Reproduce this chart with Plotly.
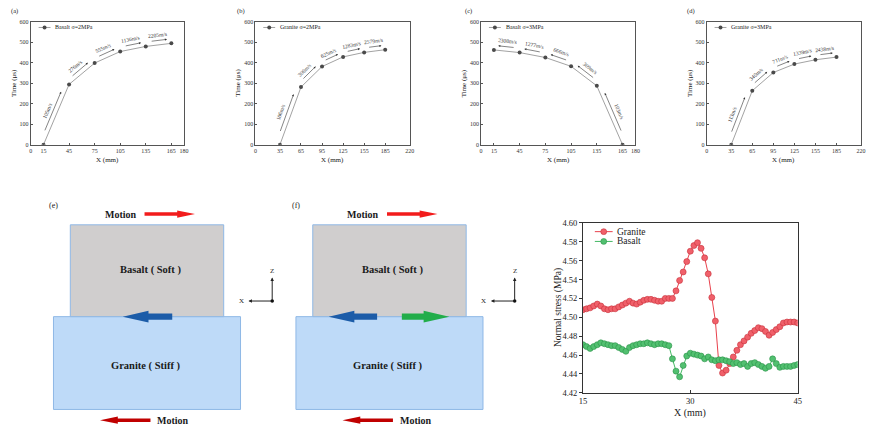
import math
import plotly.graph_objects as go

W, H = 871, 434
FONT = "Liberation Serif"

# ---------------- data ----------------
a_x = [15, 45, 75, 105, 135, 165]
a_t = [0, 294, 398, 454, 479, 494]
a_v = ["105m/s", "276m/s", "555m/s", "1136m/s", "2205m/s"]

b_x = [35, 65, 95, 125, 155, 185]
b_t = [0, 281, 381, 428, 450, 463]
b_v = ["106m/s", "306m/s", "625m/s", "1283m/s", "2579m/s"]

c_x = [15, 45, 75, 105, 135, 165]
c_t = [462, 449, 425, 382, 287, 0]
c_v = ["2308m/s", "1277m/s", "666m/s", "309m/s", "103m/s"]

d_x = [35, 65, 95, 125, 155, 185]
d_t = [0, 263, 352, 393, 414, 427]
d_v = ["113m/s", "340m/s", "711m/s", "1339m/s", "2438m/s"]

ticks_ac = [0, 15, 45, 75, 105, 135, 165, 180]
ticks_bd = [0, 35, 65, 95, 125, 155, 185, 220]

stress_x = [15.0, 15.5, 16.0, 16.5, 17.0, 17.5, 18.0, 18.5, 19.0, 19.5,
            20.0, 20.5, 21.0, 21.5, 22.0, 22.5, 23.0, 23.5, 24.0, 24.5,
            25.0, 25.5, 26.0, 26.5, 27.0, 27.5, 28.0, 28.5, 29.0, 29.5,
            30.0, 30.5, 31.0, 31.5, 32.0, 32.5, 33.0, 33.5, 34.0, 34.5,
            35.0, 35.5, 36.0, 36.5, 37.0, 37.5, 38.0, 38.5, 39.0, 39.5,
            40.0, 40.5, 41.0, 41.5, 42.0, 42.5, 43.0, 43.5, 44.0, 44.5,
            45.0]
granite = [4.508, 4.509, 4.510, 4.512, 4.514, 4.512, 4.509, 4.508, 4.509, 4.509,
           4.511, 4.513, 4.515, 4.517, 4.515, 4.514, 4.516, 4.518, 4.519, 4.519,
           4.518, 4.517, 4.517, 4.520, 4.520, 4.520, 4.528, 4.539, 4.548, 4.559,
           4.570, 4.576, 4.579, 4.573, 4.563, 4.546, 4.521, 4.496, 4.449, 4.441,
           4.444, 4.451, 4.458, 4.465, 4.471, 4.475, 4.479, 4.483, 4.486, 4.489,
           4.488, 4.485, 4.481, 4.484, 4.487, 4.490, 4.494, 4.495, 4.495, 4.495,
           4.494]
basalt = [4.471, 4.469, 4.467, 4.469, 4.471, 4.473, 4.472, 4.471, 4.470, 4.470,
          4.468, 4.466, 4.464, 4.468, 4.470, 4.471, 4.472, 4.472, 4.473, 4.472,
          4.471, 4.472, 4.472, 4.471, 4.470, 4.456, 4.443, 4.437, 4.449, 4.459,
          4.462, 4.461, 4.460, 4.459, 4.456, 4.458, 4.455, 4.454, 4.455, 4.455,
          4.454, 4.453, 4.451, 4.452, 4.450, 4.451, 4.448, 4.451, 4.452, 4.450,
          4.448, 4.446, 4.448, 4.456, 4.451, 4.447, 4.448, 4.448, 4.448, 4.449,
          4.450]


def px(x):
    return x / W


def py(y):
    return 1 - y / H


fig = go.Figure()


def text(x, y, s, size, bold=False, anchor="center", color="#1a1a1a", angle=0):
    fig.add_annotation(x=px(x), y=py(y), xref="paper", yref="paper",
                       xanchor=anchor, yanchor="middle", textangle=angle,
                       text=f"<b>{s}</b>" if bold else s, showarrow=False,
                       font=dict(family=FONT, size=size, color=color))


# ---------------- top panels ----------------
TOP_Y0, TOP_Y1 = 17, 143  # pixel top / bottom of plot areas
panels = [
    dict(lab="(a)", name="Basalt σ=2MPa", x=a_x, t=a_t, v=a_v, xmax=180, ticks=ticks_ac,
         dom=(27, 182), labx=11, dirn=1),
    dict(lab="(b)", name="Granite σ=2MPa", x=b_x, t=b_t, v=b_v, xmax=220, ticks=ticks_bd,
         dom=(254, 410), labx=239, dirn=1),
    dict(lab="(c)", name="Basalt σ=3MPa", x=c_x, t=c_t, v=c_v, xmax=180, ticks=ticks_ac,
         dom=(482, 638), labx=469, dirn=-1),
    dict(lab="(d)", name="Granite σ=3MPa", x=d_x, t=d_t, v=d_v, xmax=220, ticks=ticks_bd,
         dom=(710, 866), labx=694, dirn=1),
]

layout_axes = {}
for i, p in enumerate(panels):
    n = i + 1
    xa = "x" if n == 1 else f"x{n}"
    ya = "y" if n == 1 else f"y{n}"
    fig.add_trace(go.Scatter(
        x=p["x"], y=p["t"], xaxis=xa, yaxis=ya, mode="lines+markers",
        line=dict(color="#8a8a8a", width=0.8),
        marker=dict(symbol="circle", size=4, color="#4a4a4a"),
        showlegend=False, hoverinfo="skip"))
    axstyle = dict(showline=True, linecolor="#555", linewidth=0.8, mirror=True,
                   ticks="inside", ticklen=2, tickwidth=0.6, tickcolor="#555",
                   showgrid=False, zeroline=False,
                   tickfont=dict(family=FONT, size=6, color="#333"))
    layout_axes["xaxis" if n == 1 else f"xaxis{n}"] = dict(
        domain=[px(p["dom"][0]), px(p["dom"][1])], range=[0, p["xmax"]],
        tickvals=p["ticks"], anchor=ya, **axstyle)
    layout_axes["yaxis" if n == 1 else f"yaxis{n}"] = dict(
        domain=[py(TOP_Y1), py(TOP_Y0)], range=[0, 600], dtick=100, anchor=xa, **axstyle)

    # axis titles / panel label
    text((p["dom"][0] + p["dom"][1]) / 2, 159, "X (mm)", 7, color="#222")
    text(p["dom"][0] - 17, 80, "Time (μs)", 7, color="#222", angle=-90)
    text(p["labx"], 6, p["lab"], 6.5, color="#222")

    # legend (manual)
    lx0 = p["dom"][0] + 8
    fig.add_shape(type="line", xref="paper", yref="paper", x0=px(lx0), x1=px(lx0 + 12),
                  y0=py(23), y1=py(23), line=dict(color="#8a8a8a", width=0.8))
    fig.add_shape(type="circle", xref="paper", yref="paper", x0=px(lx0 + 4), x1=px(lx0 + 8),
                  y0=py(25), y1=py(21), fillcolor="#4a4a4a", line=dict(width=0))
    text(lx0 + 15, 23, p["name"], 6, anchor="left", color="#222")

    # velocity annotations along segments
    wpx = p["dom"][1] - p["dom"][0]
    sx = wpx / p["xmax"]
    sy = (TOP_Y1 - TOP_Y0) / 600
    for k in range(len(p["x"]) - 1):
        x1, x2 = p["x"][k], p["x"][k + 1]
        t1, t2 = p["t"][k], p["t"][k + 1]
        dxp = (x2 - x1) * sx
        dyp = (t2 - t1) * sy
        L = math.hypot(dxp, dyp)
        ux, uy = dxp / L, dyp / L
        nx, ny = -uy, ux
        ang = math.degrees(math.atan2(dyp, dxp))
        fig.add_annotation(x=(x1 + x2) / 2, y=(t1 + t2) / 2, xref=xa, yref=ya,
                           xanchor="center", yanchor="middle",
                           text=p["v"][k], textangle=-ang, showarrow=False,
                           xshift=nx * 10, yshift=ny * 10,
                           font=dict(family=FONT, size=5.5, color="#333"))
        if p["dirn"] > 0:
            h, tl = 0.85, 0.2
        else:
            h, tl = 0.15, 0.8
        hx, hy = x1 + h * (x2 - x1), t1 + h * (t2 - t1)
        fig.add_annotation(x=hx, y=hy, xref=xa, yref=ya, text="", showarrow=True,
                           ax=(tl - h) * dxp, ay=-(tl - h) * dyp,
                           xshift=nx * 4.5, yshift=ny * 4.5,
                           arrowhead=2, arrowsize=0.7, arrowwidth=0.6, arrowcolor="#333", standoff=0)

# ---------------- normal stress chart ----------------
fig.add_trace(go.Scatter(
    x=stress_x, y=granite, xaxis="x5", yaxis="y5", mode="lines+markers", name="Granite",
    line=dict(color="#e8414c", width=1),
    marker=dict(symbol="circle", size=6, color="#f0606a", line=dict(color="#c8303a", width=0.6)),
    showlegend=False, hoverinfo="skip"))
fig.add_trace(go.Scatter(
    x=stress_x, y=basalt, xaxis="x5", yaxis="y5", mode="lines+markers", name="Basalt",
    line=dict(color="#45b864", width=1),
    marker=dict(symbol="circle", size=6, color="#52c070", line=dict(color="#2a9248", width=0.6)),
    showlegend=False, hoverinfo="skip"))

ax5 = dict(showline=True, linecolor="#333", linewidth=1, mirror=True,
           ticklen=3, tickwidth=0.8, tickcolor="#333", showgrid=False, zeroline=False,
           tickfont=dict(family=FONT, size=8.5, color="#222"))
layout_axes["xaxis5"] = dict(domain=[px(585), px(802)], range=[15, 45], tickvals=[15, 30, 45],
                             ticks="inside", anchor="y5", **ax5)
layout_axes["yaxis5"] = dict(domain=[py(397), py(223)], range=[4.42, 4.60], dtick=0.02,
                             tickformat=".2f", ticks="outside", anchor="x5", **ax5)
text(693, 418, "X (mm)", 10, color="#222")
text(561, 310, "Normal stress (MPa)", 9.5, color="#222", angle=-90)
for name, yy, lc, mc, ml in [("Granite", 232, "#e8414c", "#f0606a", "#c8303a"),
                             ("Basalt", 242, "#45b864", "#52c070", "#2a9248")]:
    fig.add_shape(type="line", xref="paper", yref="paper", x0=px(597), x1=px(615),
                  y0=py(yy), y1=py(yy), line=dict(color=lc, width=1))
    fig.add_shape(type="circle", xref="paper", yref="paper", x0=px(603), x1=px(609),
                  y0=py(yy + 3), y1=py(yy - 3), fillcolor=mc, line=dict(color=ml, width=0.6))
    text(617, yy, name, 9.5, anchor="left", color="#222")


# ---------------- schematic diagrams (e), (f) ----------------
def arrow_path(x0, x1, yc, shaft, head, hl, right=True):
    s, h = shaft / 2, head / 2
    if right:
        pts = [(x0, yc - s), (x1 - hl, yc - s), (x1 - hl, yc - h), (x1, yc),
               (x1 - hl, yc + h), (x1 - hl, yc + s), (x0, yc + s)]
    else:
        pts = [(x1, yc - s), (x0 + hl, yc - s), (x0 + hl, yc - h), (x0, yc),
               (x0 + hl, yc + h), (x0 + hl, yc + s), (x1, yc + s)]
    return "M " + " L ".join(f"{px(a):.5f},{py(b):.5f}" for a, b in pts) + " Z"


def add_arrow(x0, x1, yc, shaft, head, hl, right, color):
    fig.add_shape(type="path", xref="paper", yref="paper",
                  path=arrow_path(x0, x1, yc, shaft, head, hl, right),
                  fillcolor=color, line=dict(width=0))


diagrams = [
    dict(lab="(e)", off=0, blue=[(120, 170, False, "#1c5ca8")]),
    dict(lab="(f)", off=245, blue=[(328, 377, False, "#1c5ca8"), (402, 450, True, "#22ad4a")]),
]
for dg in diagrams:
    o = dg["off"]
    text(50 + o, 205, dg["lab"], 8)
    # blocks
    fig.add_shape(type="rect", xref="paper", yref="paper", x0=px(50 + o), x1=px(239 + o),
                  y0=py(414), y1=py(319), fillcolor="#bedaf8", line=dict(color="#8fb8e6", width=1))
    fig.add_shape(type="rect", xref="paper", yref="paper", x0=px(67 + o), x1=px(222 + o),
                  y0=py(319), y1=py(225), fillcolor="#d0cece", line=dict(color="#8fb8e6", width=1))
    text(148 + o, 271, "Basalt ( Soft )", 10.5, bold=True)
    text(143 + o, 370, "Granite ( Stiff )", 10.5, bold=True)
    # motion arrows
    text(118 + o, 214, "Motion", 10, bold=True)
    add_arrow(142 + o, 193 + o, 214, 3.5, 7.5, 18, True, "#f21c1c")
    text(171 + o, 425, "Motion", 10, bold=True)
    add_arrow(97 + o, 148 + o, 425, 3.5, 7.5, 18, False, "#c00000")
    # interface arrows
    for (x0, x1, right, col) in dg["blue"]:
        add_arrow(x0, x1, 319, 6.5, 12, 26, right, col)
    # coordinate indicator
    cx, cy = 271 + o, 303
    fig.add_annotation(x=px(cx), y=py(cy - 24), xref="paper", yref="paper", text="",
                       showarrow=True, ax=0, ay=24, arrowhead=2, arrowsize=0.7,
                       arrowwidth=1, arrowcolor="#222", standoff=0)
    fig.add_annotation(x=px(cx - 24), y=py(cy), xref="paper", yref="paper", text="",
                       showarrow=True, ax=24, ay=0, arrowhead=2, arrowsize=0.7,
                       arrowwidth=1, arrowcolor="#222", standoff=0)
    fig.add_shape(type="circle", xref="paper", yref="paper", x0=px(cx - 1.8), x1=px(cx + 1.8),
                  y0=py(cy + 1.8), y1=py(cy - 1.8), fillcolor="#111", line=dict(width=0))
    text(cx, cy - 31, "Z", 7)
    text(cx - 31, cy, "X", 7)

fig.update_layout(
    width=W, height=H, margin=dict(l=0, r=0, t=0, b=0),
    paper_bgcolor="white", plot_bgcolor="white", showlegend=False,
    font=dict(family=FONT), **layout_axes)

fig.write_html("out.html")
